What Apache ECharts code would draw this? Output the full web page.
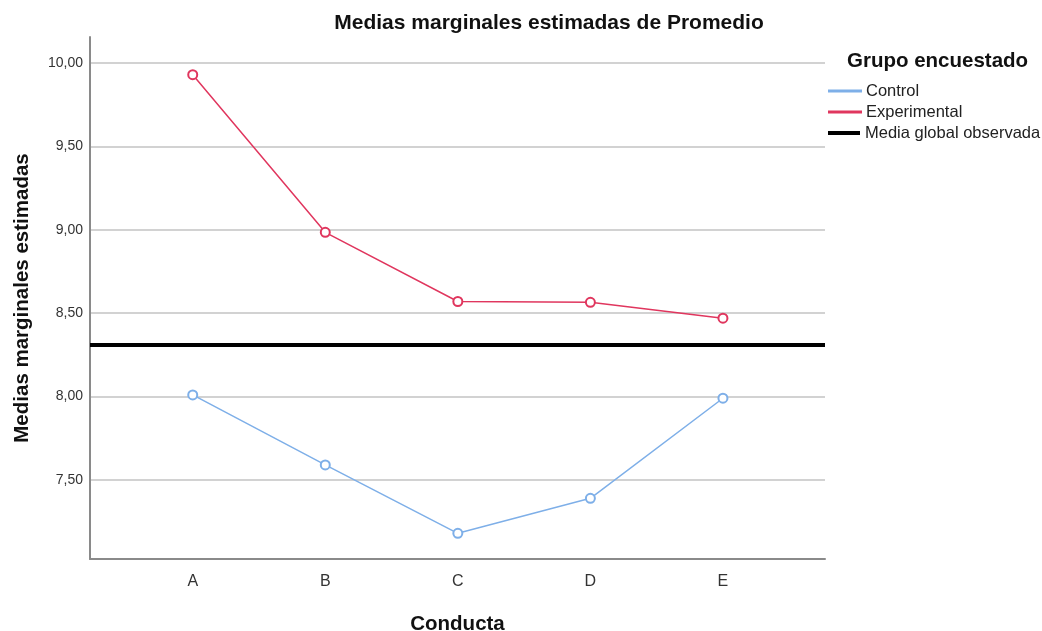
<!DOCTYPE html>
<html>
<head>
<meta charset="utf-8">
<script src="https://cdn.jsdelivr.net/npm/echarts@6/dist/echarts.min.js"></script>
<style>
  html, body { margin: 0; padding: 0; background: #fff; }
  #chart { width: 1042px; height: 631px; }
</style>
</head>
<body>
<div id="chart"></div>
<script>
// datos
const categories = ['A', 'B', 'C', 'D', 'E'];
const control = [8.01, 7.59, 7.18, 7.39, 7.99];
const experimental = [9.93, 8.985, 8.57, 8.565, 8.47];
const globalMean = 8.31;
const yTicks = [7.5, 8.0, 8.5, 9.0, 9.5, 10.0];

const font = 'Liberation Sans, Arial, sans-serif';
const blue = '#7eafe8';
const red = '#e0365e';

function toPoints(values) {
  return values.map(function (v, i) { return [i, v]; });
}

const chart = echarts.init(document.getElementById('chart'));
const option = {
  backgroundColor: '#fff',
  animation: false,
  textStyle: { fontFamily: font },
  title: [
    {
      text: 'Medias marginales estimadas de Promedio',
      left: 544, top: 8, textAlign: 'center',
      textStyle: { fontSize: 21, fontWeight: 'bold', color: '#111', fontFamily: font }
    },
    {
      text: 'Grupo encuestado',
      left: 842, top: 46,
      textStyle: { fontSize: 20.5, fontWeight: 'bold', color: '#111', fontFamily: font }
    }
  ],
  legend: [
    {
      data: ['Control', 'Experimental'],
      orient: 'vertical',
      left: 828, top: 80.5,
      padding: 0,
      icon: 'rect',
      itemWidth: 32, itemHeight: 1,
      itemGap: 0,
      textStyle: { fontSize: 16.5, lineHeight: 21, color: '#222', fontFamily: font }
    },
    {
      data: ['Media global observada'],
      orient: 'vertical',
      left: 828, top: 122.5,
      padding: 0,
      icon: 'rect',
      itemWidth: 32, itemHeight: 4,
      textStyle: { fontSize: 16.5, lineHeight: 21, color: '#222', fontFamily: font }
    }
  ],
  grid: { left: 90, right: 217, top: 37, bottom: 72, outerBoundsMode: 'none' },
  xAxis: {
    type: 'value',
    min: -0.775,
    max: 4.77,
    name: 'Conducta',
    nameLocation: 'middle',
    nameGap: 55,
    nameTextStyle: { fontSize: 20.5, fontWeight: 'bold', color: '#111', fontFamily: font },
    axisLine: { show: true, onZero: false, lineStyle: { color: '#8a8a8a', width: 2 } },
    axisTick: { show: false, customValues: [0, 1, 2, 3, 4] },
    splitLine: { show: false },
    axisLabel: {
      customValues: [0, 1, 2, 3, 4],
      formatter: function (v) { return categories[Math.round(v)]; },
      fontSize: 16, color: '#333', margin: 15, fontFamily: font
    }
  },
  yAxis: {
    type: 'value',
    min: 7.026,
    max: 10.156,
    name: 'Medias marginales estimadas',
    nameLocation: 'middle',
    nameGap: 57,
    nameTextStyle: { fontSize: 20.5, fontWeight: 'bold', color: '#111', fontFamily: font },
    axisLine: { show: true, onZero: false, lineStyle: { color: '#8a8a8a', width: 2 } },
    axisTick: { show: false, customValues: yTicks },
    axisLabel: {
      customValues: yTicks,
      formatter: function (v) { return v.toFixed(2).replace('.', ','); },
      fontSize: 14, color: '#333', margin: 7, fontFamily: font
    },
    splitLine: { show: true, lineStyle: { color: '#d2d2d2', width: 2 } }
  },
  series: [
    {
      name: 'Control',
      type: 'line',
      data: toPoints(control),
      color: blue,
      symbol: 'emptyCircle',
      symbolSize: 9,
      lineStyle: { color: blue, width: 1.5 },
      itemStyle: { color: blue, borderColor: blue, borderWidth: 1.3 }
    },
    {
      name: 'Experimental',
      type: 'line',
      data: toPoints(experimental),
      color: red,
      symbol: 'emptyCircle',
      symbolSize: 9,
      lineStyle: { color: red, width: 1.5 },
      itemStyle: { color: red, borderColor: red, borderWidth: 1.3 }
    },
    {
      name: 'Media global observada',
      type: 'line',
      data: [],
      color: '#000',
      lineStyle: { color: '#000', width: 4 },
      markLine: {
        silent: true,
        symbol: 'none',
        label: { show: false },
        lineStyle: { color: '#000', width: 4, type: 'solid' },
        data: [{ yAxis: globalMean }]
      }
    }
  ]
};
chart.setOption(option);
window.addEventListener('resize', function () {
  chart.resize();
});
</script>
</body>
</html>
